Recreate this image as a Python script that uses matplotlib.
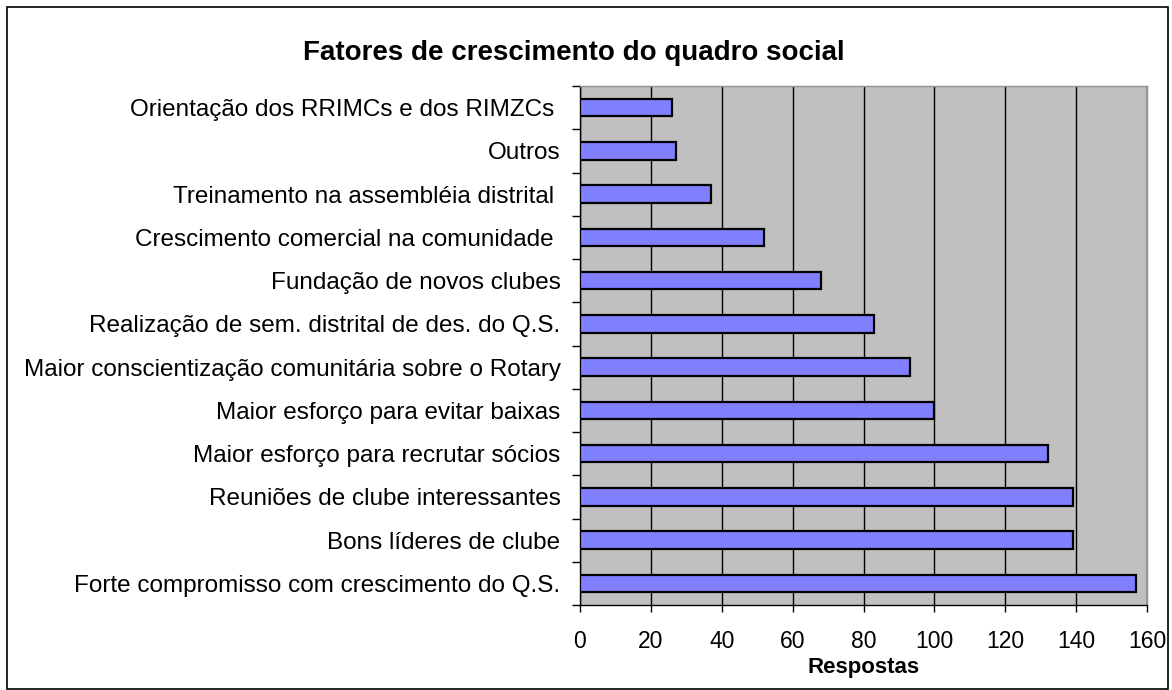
import matplotlib
matplotlib.use("Agg")
import matplotlib.pyplot as plt
from matplotlib.patches import Rectangle
import numpy as np

plt.rcParams['font.family'] = ['Liberation Sans', 'DejaVu Sans']

title = "Fatores de crescimento do quadro social"
xlabel = "Respostas"
categories = [
    "Forte compromisso com crescimento do Q.S.",
    "Bons líderes de clube",
    "Reuniões de clube interessantes",
    "Maior esforço para recrutar sócios",
    "Maior esforço para evitar baixas",
    "Maior conscientização comunitária sobre o Rotary",
    "Realização de sem. distrital de des. do Q.S.",
    "Fundação de novos clubes",
    "Crescimento comercial na comunidade ",
    "Treinamento na assembléia distrital ",
    "Outros",
    "Orientação dos RRIMCs e dos RIMZCs ",
]
values = [157, 139, 139, 132, 100, 93, 83, 68, 52, 37, 27, 26]
xticks = [0, 20, 40, 60, 80, 100, 120, 140, 160]

W, H = 1172, 690
fig = plt.figure(figsize=(W / 100, H / 100), dpi=100)
L, R, T, B = 580, 1147, 86, 605
ax = fig.add_axes([L / W, 1 - B / H, (R - L) / W, (B - T) / H])
ax.set_facecolor('#C0C0C0')

y = np.arange(len(categories))
ax.barh(y, values, height=0.4, color='#8080FF', edgecolor='black', linewidth=1.6, zorder=3)

ax.set_xlim(0, 160)
ax.set_ylim(-0.5, len(categories) - 0.5)
ax.set_xticks(xticks)
ax.set_xticklabels([str(t) for t in xticks], fontsize=16.5)
ax.set_yticks(y)
ax.set_yticklabels(categories, fontsize=17.5)
ax.tick_params(axis='y', which='major', length=0, pad=14)
ax.set_yticks(np.arange(-0.5, len(categories), 1.0), minor=True)
ax.tick_params(axis='y', which='minor', length=6, width=1, direction='out')
ax.tick_params(axis='x', which='major', length=5, width=1, direction='out', pad=13)

ax.xaxis.grid(True, color='black', linewidth=1, zorder=1)
ax.set_axisbelow(True)
for s in ['top', 'right']:
    ax.spines[s].set_color('#909090')
    ax.spines[s].set_linewidth(1)
for s in ['left', 'bottom']:
    ax.spines[s].set_color('black')
    ax.spines[s].set_linewidth(1)

ax.set_xlabel(xlabel, fontsize=16, fontweight='bold', labelpad=3)
fig.text(574 / W, 1 - 53 / H, title, fontsize=20, fontweight='bold', ha='center', va='center')

fig.patches.append(Rectangle((7 / W, 1 / H), (1168 - 7) / W, (H - 8) / H, transform=fig.transFigure,
                             fill=False, edgecolor='black', linewidth=1.2))

fig.savefig("out.png", dpi=100)
